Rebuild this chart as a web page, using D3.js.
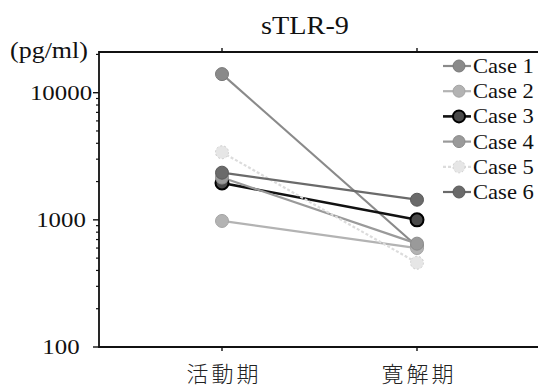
<!DOCTYPE html>
<html>
<head>
<meta charset="utf-8">
<script src="https://cdn.jsdelivr.net/npm/d3@7"></script>
<style>
  body { margin: 0; background: #fff; }
  svg { display: block; }
</style>
</head>
<body>
<svg id="chart"></svg>
<script>
// data
const periods = ["活動期", "寛解期"];
const cases = ["Case 1", "Case 2", "Case 3", "Case 4", "Case 5", "Case 6"];
const active = [14000, 980, 1950, 2150, 3400, 2350];
const remission = [620, 600, 1000, 650, 460, 1440];
const yTicks = [100, 1000, 10000];

const lineColors = ["#8a8a8a", "#b3b3b3", "#111111", "#9a9a9a", "#dcdcdc", "#6a6a6a"];
const fillColors = ["#8a8a8a", "#b3b3b3", "#4a4a4a", "#9a9a9a", "#e6e6e6", "#6a6a6a"];
const edgeColors = ["#7a7a7a", "#a5a5a5", "#000000", "#8c8c8c", "#cfcfcf", "#5a5a5a"];

const width = 538, height = 387;
const margin = { top: 52, bottom: 40, left: 99 };
const serif = "'Liberation Serif', 'DejaVu Serif', serif";
const stretch = 1.13; // the original lettering is a bit wide

const svg = d3.select("#chart").attr("width", width).attr("height", height);

const x = d3.scalePoint().domain(periods).range([222, 417]);
const y = d3.scaleLog().domain([100, Math.pow(10, 4.32)])
  .range([height - margin.bottom, margin.top]);

// wide serif text helper
function wideText(sel, tx, ty, size) {
  return sel.attr("transform", `translate(${tx},${ty}) scale(${stretch},1)`)
    .style("font-family", serif).style("font-size", size + "px").style("fill", "#111");
}

// frame
svg.append("path")
  .attr("d", `M${width + 2},${margin.top}H${margin.left}V${y(100)}H${width + 2}`)
  .attr("fill", "none").attr("stroke", "#111").attr("stroke-width", 1.8);

// y axis: major + minor ticks on the left
const minor = [];
for (let p = 100; p < 20000; p *= 10) {
  for (let k = 2; k <= 9; k++) if (p * k <= y.domain()[1]) minor.push(p * k);
}
svg.append("g").selectAll("line").data(minor).join("line")
  .attr("x1", margin.left - 3).attr("x2", margin.left)
  .attr("y1", d => y(d)).attr("y2", d => y(d))
  .attr("stroke", "#111").attr("stroke-width", 1.2);
svg.append("g").selectAll("line").data(yTicks).join("line")
  .attr("x1", margin.left - 6).attr("x2", margin.left)
  .attr("y1", d => y(d)).attr("y2", d => y(d))
  .attr("stroke", "#111").attr("stroke-width", 1.4);
svg.append("g").selectAll("text").data(yTicks).join("text")
  .each(function(d) { wideText(d3.select(this), 61, y(d) + 7, 22); })
  .attr("text-anchor", "middle")
  .text(d => d);

// x ticks top & bottom
periods.forEach(p => {
  svg.append("line").attr("x1", x(p)).attr("x2", x(p))
    .attr("y1", y(100)).attr("y2", y(100) + 4).attr("stroke", "#111").attr("stroke-width", 1.4);
  svg.append("line").attr("x1", x(p)).attr("x2", x(p))
    .attr("y1", margin.top).attr("y2", margin.top - 4).attr("stroke", "#111").attr("stroke-width", 1.4);
});
svg.append("g").selectAll("text").data(periods).join("text")
  .attr("x", d => x(d) + 2).attr("y", 382)
  .attr("text-anchor", "middle")
  .style("font-family", "'Noto Sans CJK JP', sans-serif").style("font-weight", 300)
  .style("font-size", "22px").style("fill", "#222").style("letter-spacing", "3px")
  .text(d => d);

// title + unit
wideText(svg.append("text"), 305, 34, 25).attr("text-anchor", "middle").text("sTLR-9");
wideText(svg.append("text"), 10, 58, 23).text("(pg/ml)");

// series lines and markers
const plot = svg.append("g");
cases.forEach((c, i) => {
  const pts = [[periods[0], active[i]], [periods[1], remission[i]]];
  plot.append("path")
    .datum(pts)
    .attr("d", d3.line().x(d => x(d[0])).y(d => y(d[1])))
    .attr("fill", "none")
    .attr("stroke", lineColors[i])
    .attr("stroke-width", i === 2 ? 2.6 : 2.2)
    .attr("stroke-dasharray", i === 4 ? "3,2" : null);
});
cases.forEach((c, i) => {
  const pts = [[periods[0], active[i]], [periods[1], remission[i]]];
  plot.append("g").selectAll("circle").data(pts).join("circle")
    .attr("cx", d => x(d[0])).attr("cy", d => y(d[1])).attr("r", 6.5)
    .attr("fill", fillColors[i]).attr("stroke", edgeColors[i])
    .attr("stroke-width", i === 2 ? 2 : 1)
    .attr("stroke-dasharray", i === 4 ? "2,2" : null);
});

// legend
const legend = svg.append("g");
cases.forEach((c, i) => {
  const ly = 66 + i * 25.2;
  legend.append("line").attr("x1", 443).attr("x2", 471).attr("y1", ly).attr("y2", ly)
    .attr("stroke", lineColors[i]).attr("stroke-width", i === 2 ? 2.6 : 2.2)
    .attr("stroke-dasharray", i === 4 ? "3,2" : null);
  legend.append("circle").attr("cx", 459).attr("cy", ly).attr("r", 6)
    .attr("fill", fillColors[i]).attr("stroke", edgeColors[i])
    .attr("stroke-width", i === 2 ? 2 : 1)
    .attr("stroke-dasharray", i === 4 ? "2,2" : null);
  wideText(legend.append("text"), 473, ly + 7, 20).text(c);
});
</script>
</body>
</html>
